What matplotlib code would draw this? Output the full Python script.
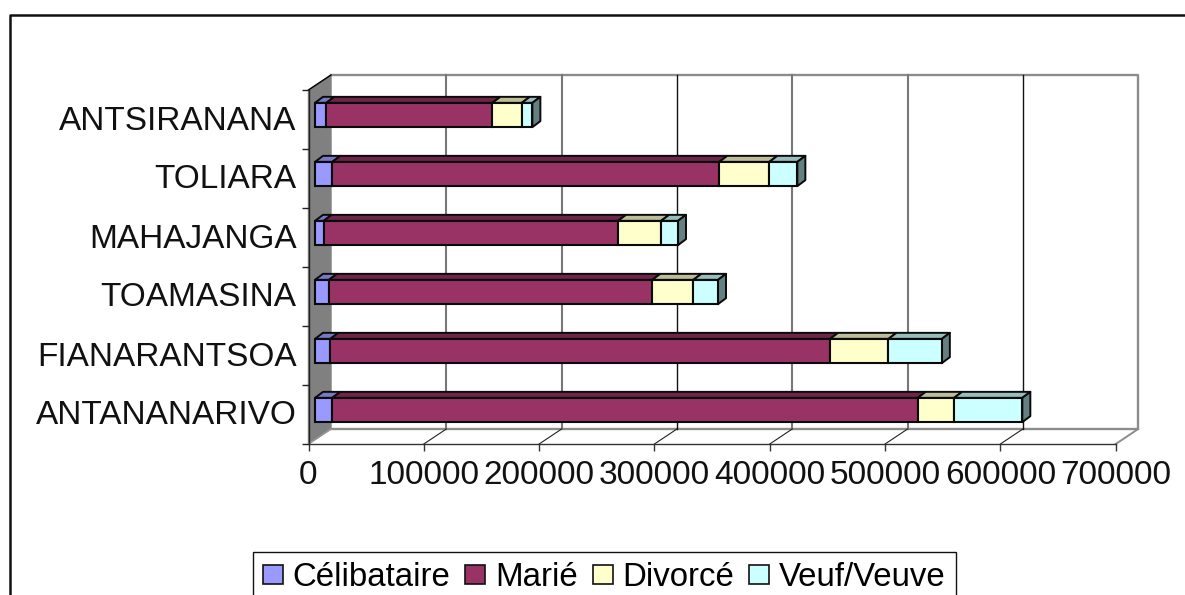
import matplotlib
matplotlib.use("Agg")
import matplotlib.pyplot as plt
from matplotlib.patches import Polygon, Patch
from matplotlib.lines import Line2D
from matplotlib.transforms import ScaledTranslation

plt.rcParams['font.family'] = ['Liberation Sans', 'DejaVu Sans']

regions = ["ANTANANARIVO", "FIANARANTSOA", "TOAMASINA", "MAHAJANGA", "TOLIARA", "ANTSIRANANA"]
celibataire = [15000, 13300, 12100, 7500, 15000, 9800]
marie = [507700, 433400, 280400, 255300, 335600, 144000]
divorce = [31500, 50600, 35600, 37300, 43400, 25500]
veuf = [59200, 46300, 21400, 14700, 24300, 9200]
series_names = ["Célibataire", "Marié", "Divorcé", "Veuf/Veuve"]
x_ticks = [0, 100000, 200000, 300000, 400000, 500000, 600000, 700000]

front_colors = ["#9999FF", "#993366", "#FFFFCC", "#CCFFFF"]
top_colors = ["#7878C4", "#6E2549", "#BDBD99", "#99BDBD"]
side_color = "#658080"

W, H = 1185, 595
fig = plt.figure(figsize=(W / 100, H / 100), dpi=100, facecolor="white")
L, R, T, B = 308.5, 1115.7, 90.0, 444.0
ax = fig.add_axes([L / W, 1 - B / H, (R - L) / W, (B - T) / H])
ax.patch.set_visible(False)
ax.set_xlim(0, 700000)
ax.set_ylim(-0.5, 5.5)

px_x = 700000 / (R - L)
px_y = 6 / (B - T)
FS = 24
FS_LEG = 23.8

# 3D box walls
wdx, wdy = 22.5 * px_x, 15 * px_y
y0, y1 = -0.5, 5.5
ax.add_patch(Polygon([(0, y0), (0, y1), (wdx, y1 + wdy), (wdx, y0 + wdy)],
                     facecolor="#808080", edgecolor="#808080", lw=1, zorder=1, clip_on=False))
wall_x = [wdx, 700000 + wdx, 700000 + wdx, wdx]
wall_y = [y0 + wdy, y0 + wdy, y1 + wdy, y1 + wdy]
ax.plot(wall_x, wall_y, color="#8C8C8C", lw=1.7, zorder=1.2, clip_on=False)
ax.plot([700000, 700000 + wdx], [y0, y0 + wdy], color="#8C8C8C", lw=1.4, zorder=1.2, clip_on=False)
ax.plot([0, wdx], [y1, y1 + wdy], color="black", lw=1, zorder=1.3, clip_on=False)
ax.plot([0, wdx], [y0, y0 + wdy], color="#9A9A9A", lw=1, zorder=1.3, clip_on=False)
dark_grid = {300000, 600000}
for v in x_ticks[1:-1]:
    dark = v in dark_grid
    c, lw = ("#111111", 1.0) if dark else ("#777777", 1.5)
    ax.plot([v + wdx, v + wdx], [y0 + wdy, y1 + wdy], color=c, lw=lw, zorder=1.4, clip_on=False)
    ax.plot([v, v + wdx], [y0, y0 + wdy], color="#222222", lw=0.8, zorder=1.4, clip_on=False)

# stacked 3D bars
ox, oy = 6.5 * px_x, 4.5 * px_y      # front plane of the bars
ddx, ddy = 8 * px_x, 6 * px_y        # depth of the bars
bar_h = 24.3 * px_y
series = [celibataire, marie, divorce, veuf]
ypos = list(range(len(regions)))
for i, y in enumerate(ypos):
    left = 0
    yb, yt = y + oy - bar_h / 2, y + oy + bar_h / 2
    for s, vals in enumerate(series):
        v = vals[i]
        a, b = left + ox, left + v + ox
        ax.add_patch(Polygon([(a, yt), (b, yt), (b + ddx, yt + ddy), (a + ddx, yt + ddy)],
                             facecolor=top_colors[s], edgecolor="#0A0A0A", lw=1.4,
                             joinstyle="round", zorder=3, clip_on=False))
        left += v
    ax.add_patch(Polygon([(left + ox, yb), (left + ox, yt), (left + ox + ddx, yt + ddy), (left + ox + ddx, yb + ddy)],
                         facecolor=side_color, edgecolor="#0A0A0A", lw=1.4,
                         joinstyle="round", zorder=3, clip_on=False))
    left = 0
    for s, vals in enumerate(series):
        ax.barh(y + oy, vals[i], left=left + ox, height=bar_h, color=front_colors[s],
                edgecolor="#0A0A0A", linewidth=1.5, zorder=4, clip_on=False)
        left += vals[i]
ax.set_xlim(0, 700000)
ax.set_ylim(-0.5, 5.5)

# axes
for name in ("top", "right"):
    ax.spines[name].set_visible(False)
ax.spines["left"].set_color("#222222")
ax.spines["bottom"].set_color("#333333")
ax.spines["left"].set_linewidth(1.0)
ax.spines["bottom"].set_linewidth(1.0)
ax.set_xticks(x_ticks)
ax.set_xticklabels([str(t) for t in x_ticks], fontsize=FS, color="#111111")
ax.tick_params(axis="x", length=5, width=1.0, color="#333333", pad=6.5)
ax.set_yticks(ypos)
ax.set_yticklabels(regions, fontsize=FS, color="#111111")
ax.set_yticks([p - 0.5 for p in ypos] + [5.5], minor=True)
ax.tick_params(axis="y", which="major", length=0, pad=8.5)
ax.tick_params(axis="y", which="minor", length=5, width=1.0, color="#222222")
lift = ScaledTranslation(0, 2 / 100, fig.dpi_scale_trans)
for lab in ax.get_yticklabels():
    lab.set_transform(lab.get_transform() + lift)

# outer chart frame
fig.add_artist(Line2D([10 / W, 10 / W, 1], [0, 1 - 15 / H, 1 - 15 / H],
                      transform=fig.transFigure, color="#111111", lw=1.8))

# legend
handles = [Patch(facecolor=c, edgecolor="#111111", linewidth=1.2, label=n)
           for c, n in zip(front_colors, series_names)]
leg = fig.legend(handles=handles, ncol=4, loc="upper left",
                 bbox_to_anchor=(253 / W, 1 - 552 / H), bbox_transform=fig.transFigure,
                 fontsize=FS_LEG, frameon=True, fancybox=False, edgecolor="#111111",
                 framealpha=1, borderpad=0.3, borderaxespad=0,
                 handlelength=0.6, handleheight=0.5, handletextpad=0.3, columnspacing=0.45,
                 labelspacing=0)
leg.get_frame().set_linewidth(1.0)

fig.savefig("out.png", dpi=100, facecolor="white")
